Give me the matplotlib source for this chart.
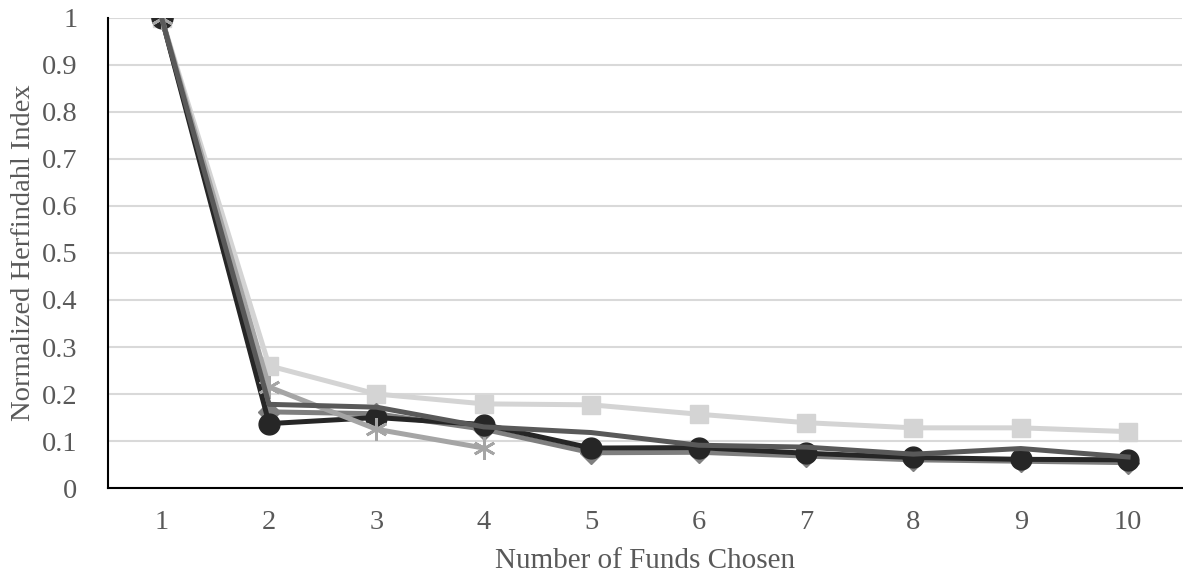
import matplotlib
matplotlib.use('Agg')
from matplotlib import pyplot as plt

# data
funds = [1, 2, 3, 4, 5, 6, 7, 8, 9, 10]
squares = [1, 0.26, 0.20, 0.179, 0.177, 0.157, 0.139, 0.128, 0.128, 0.12]
stars_x = [1, 2, 3, 4]
stars = [1, 0.215, 0.125, 0.085]
diamonds = [1, 0.162, 0.158, 0.125, 0.075, 0.076, 0.068, 0.06, 0.057, 0.054]
dark_line = [1, 0.178, 0.172, 0.13, 0.118, 0.091, 0.087, 0.072, 0.084, 0.066]
circles = [1, 0.137, 0.15, 0.135, 0.085, 0.086, 0.074, 0.065, 0.061, 0.06]
yticks = [0, 0.1, 0.2, 0.3, 0.4, 0.5, 0.6, 0.7, 0.8, 0.9, 1]
ylabels = ['0', '0.1', '0.2', '0.3', '0.4', '0.5', '0.6', '0.7', '0.8', '0.9', '1']

plt.rcParams['font.family'] = ['Liberation Serif', 'DejaVu Serif']

fig = plt.figure(figsize=(11.83, 5.8), dpi=100)
ax = fig.add_axes([0.0913, 0.1586, 0.9077, 0.8104])

lw = 3.6
ax.plot(funds, squares, color='#d4d4d4', lw=lw, marker='s', ms=13, zorder=3)
ax.plot(funds, diamonds, color='#7f7f7f', lw=lw, marker='D', ms=11, zorder=4)
ax.plot(funds, circles, color='#262626', lw=lw, marker='o', ms=15, zorder=5)
ax.plot(stars_x, stars, color='#a5a5a5', lw=lw, marker=(6, 2, 0), ms=16, mew=2, zorder=6)
ax.plot(funds, dark_line, color='#595959', lw=lw, zorder=7)

ax.set_xlim(0.5, 10.5)
ax.set_ylim(0, 1)
ax.set_xticks(funds)
ax.set_yticks(yticks)
ax.set_yticklabels(ylabels)
ax.grid(axis='y', color='#d9d9d9', lw=1.5)
ax.set_axisbelow(True)
ax.tick_params(length=0, labelsize=20.5, labelcolor='#595959')
ax.tick_params(axis='y', pad=22)
ax.tick_params(axis='x', pad=16)

for s in ['top', 'right']:
    ax.spines[s].set_visible(False)
for s in ['left', 'bottom']:
    ax.spines[s].set_color('black')
    ax.spines[s].set_linewidth(1.5)

ax.set_xlabel('Number of Funds Chosen', fontsize=21, color='#595959', labelpad=9)
ax.set_ylabel('Normalized Herfindahl Index', fontsize=20.5, color='#595959', labelpad=4)

plt.savefig('out.png', dpi=100)
